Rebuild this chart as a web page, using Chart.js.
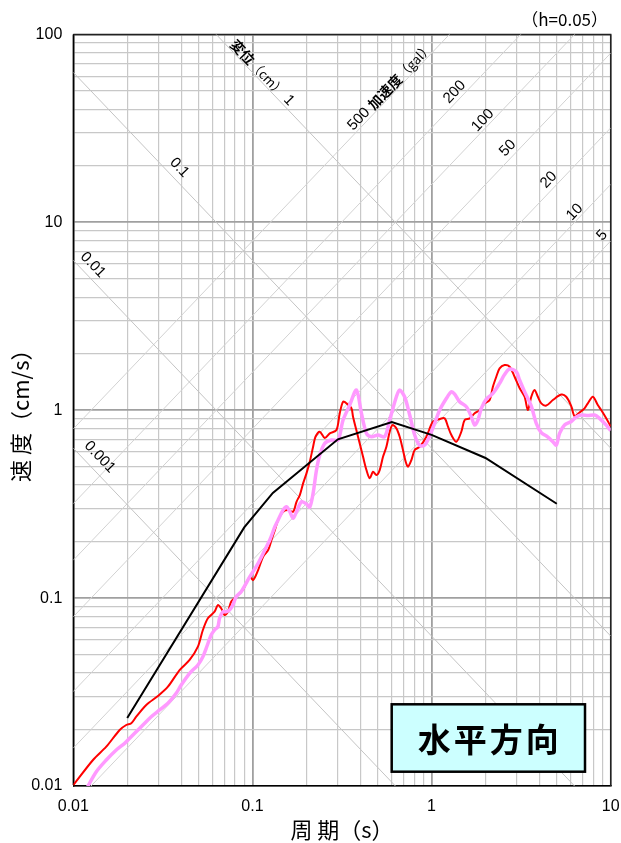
<!DOCTYPE html>
<html><head><meta charset="utf-8">
<script src="https://cdn.jsdelivr.net/npm/chart.js@4.4.1/dist/chart.umd.min.js"></script>
<style>html,body{margin:0;padding:0;background:#fff;}#wrap{width:621px;height:843px;}</style>
</head><body><div id="wrap"><canvas id="c" width="621" height="843"></canvas></div>
<script>
// ---- tick labels ----
const periodLabels = [0.01, 0.1, 1, 10];
const velocityLabels = [0.01, 0.1, 1, 10, 100];
// ---- tripartite guide lines ----
const displacementLines = [0.001, 0.01, 0.1, 1];          // cm
const accelerationLines = [5, 10, 20, 50, 100, 200, 500]; // gal

// ---- series: red ----
const redT = [0.01,0.01288,0.01528,0.01815,0.01975,0.02107,0.02246,0.02554,0.02968,0.03375,0.03921,0.04459,0.04961,0.05289,0.0564,0.06146,0.06412,0.06689,0.06988,0.07292,0.07607,0.08111,0.08843,0.09672,0.1009,0.1076,0.1147,0.1224,0.1278,0.1334,0.1391,0.1484,0.1582,0.1687,0.1762,0.1838,0.1918,0.2003,0.209,0.2181,0.2249,0.2376,0.2534,0.2702,0.2944,0.3072,0.3206,0.3348,0.357,0.3644,0.3886,0.4145,0.433,0.4517,0.4713,0.4922,0.5134,0.5357,0.5596,0.5838,0.6044,0.6362,0.6638,0.6925,0.7171,0.7385,0.7715,0.805,0.8583,0.9354,1.018,1.11,1.183,1.235,1.29,1.375,1.466,1.53,1.632,1.74,1.855,1.978,2.109,2.2,2.298,2.398,2.556,2.727,2.907,3.1,3.306,3.449,3.603,3.758,3.921,4.096,4.369,4.755,5.296,5.646,6.022,6.283,6.699,7.143,7.452,7.95,8.472,8.851,9.438,10];
const redV = [0.0101,0.01375,0.01619,0.01987,0.02112,0.02157,0.02338,0.02699,0.03013,0.03378,0.04143,0.04685,0.05513,0.06765,0.0781,0.08466,0.0919,0.08826,0.08128,0.08466,0.0957,0.1017,0.1104,0.13,0.1248,0.1411,0.1661,0.1803,0.2038,0.2303,0.2604,0.2883,0.2944,0.2883,0.3258,0.3537,0.4082,0.4615,0.5319,0.6394,0.7228,0.7684,0.7112,0.7534,0.7847,0.9627,1.11,1.088,1.024,0.9236,0.7228,0.5655,0.4805,0.4341,0.4707,0.452,0.4805,0.5655,0.6394,0.7684,0.834,0.801,0.7228,0.6139,0.5319,0.5004,0.5433,0.6139,0.6394,0.7228,0.8688,0.898,0.9056,0.8172,0.738,0.6799,0.7684,0.887,0.9056,0.9627,1.002,1.088,1.133,1.334,1.508,1.671,1.74,1.704,1.508,1.313,1.18,1.002,1.18,1.281,1.18,1.088,1.059,1.133,1.212,1.18,1.053,0.9314,0.9721,1.024,1.088,1.18,1.066,1.002,0.9056,0.82];
// ---- series: pink ----
const pinkT = [0.0118,0.01344,0.01528,0.01737,0.01935,0.02064,0.022,0.02447,0.02723,0.03033,0.03375,0.03753,0.04003,0.04459,0.04961,0.05289,0.05518,0.05885,0.06146,0.06412,0.06553,0.06837,0.07133,0.07451,0.07774,0.08111,0.08649,0.09672,0.1076,0.1173,0.125,0.1334,0.1391,0.1484,0.1549,0.1617,0.1687,0.1762,0.1879,0.2003,0.209,0.2181,0.2278,0.2376,0.2534,0.2761,0.3006,0.3206,0.3493,0.3807,0.406,0.433,0.4617,0.5023,0.5475,0.5838,0.6362,0.6638,0.7079,0.755,0.805,0.8583,0.9152,0.9759,1.041,1.11,1.209,1.29,1.345,1.434,1.564,1.667,1.74,1.815,1.896,2.021,2.2,2.398,2.556,2.727,2.972,3.1,3.306,3.603,3.842,4.096,4.459,4.755,4.967,5.182,5.525,6.022,6.421,6.846,7.452,8.124,8.659,9.438,10];
const pinkV = [0.0096,0.01191,0.01375,0.01554,0.01687,0.01794,0.01908,0.02112,0.02338,0.02539,0.02755,0.03114,0.03448,0.03979,0.04406,0.04877,0.05405,0.06363,0.06765,0.07043,0.0781,0.08466,0.08466,0.08645,0.0919,0.1017,0.1082,0.13,0.1532,0.1803,0.2038,0.2399,0.2604,0.2944,0.3065,0.2883,0.2659,0.2883,0.3258,0.3168,0.3053,0.3612,0.4805,0.5775,0.6665,0.694,0.694,0.887,1.066,1.281,0.9627,0.7534,0.7228,0.738,0.7228,0.887,1.18,1.281,1.176,0.9429,0.738,0.649,0.6529,0.729,0.8517,1.002,1.154,1.255,1.22,1.11,1.044,0.9236,0.834,0.887,1.024,1.147,1.23,1.391,1.549,1.657,1.603,1.448,1.255,1.053,0.8517,0.7609,0.7202,0.6799,0.6529,0.7534,0.834,0.871,0.9201,0.9429,0.937,0.9429,0.9056,0.834,0.78];
// ---- series: black ----
const blackT = [0.02, 0.09, 0.13, 0.3, 0.6, 1.0, 2.0, 5.0];
const blackV = [0.023, 0.238, 0.363, 0.70, 0.865, 0.74, 0.557, 0.318];

// ---------------------------------------------------------------
const TWO_PI = 2 * Math.PI;
const pts = (T, V) => T.map((t, i) => ({x: t, y: V[i]}));
const isDecade = v => Math.abs(Math.log10(v) - Math.round(Math.log10(v))) < 1e-9;
function gridValues(min, max) {
  const out = [];
  for (let e = Math.round(Math.log10(min)); e < Math.round(Math.log10(max)); e++)
    for (let m = 1; m < 10; m++) out.push(m * Math.pow(10, e));
  out.push(max);
  return out;
}
const lineV = (kind, val, t) => kind === 'D' ? TWO_PI * val / t : val * t / TWO_PI;
const X_MIN = 0.01, X_MAX = 10;

const guideSets = [];
displacementLines.forEach(d => guideSets.push({
  data: [{x: X_MIN, y: lineV('D', d, X_MIN)}, {x: X_MAX, y: lineV('D', d, X_MAX)}],
  borderColor: '#c4c4c4', borderWidth: 1, pointRadius: 0, showLine: true
}));
accelerationLines.forEach(a => guideSets.push({
  data: [{x: X_MIN, y: lineV('A', a, X_MIN)}, {x: X_MAX, y: lineV('A', a, X_MAX)}],
  borderColor: '#d2d2d2', borderWidth: 1, pointRadius: 0, showLine: true
}));

const NUM = "'Liberation Sans', Arial, sans-serif";
const CJK = "'Noto Sans CJK JP', sans-serif";
const diagLabels = [
  {kind:'D', value:1,     t:0.1065, off:7,  parts:[['変位', CJK, 'bold 14px'], ['（cm）', CJK, '13px'], [' 1', NUM, '15px']]},
  {kind:'D', value:0.1,   t:0.0353, off:11, parts:[['0.1', NUM, '15px']]},
  {kind:'D', value:0.01,  t:0.01162,off:11, parts:[['0.01', NUM, '15px']]},
  {kind:'D', value:0.001, t:0.01245,off:13, parts:[['0.001', NUM, '15px']]},
  {kind:'A', value:500,   t:0.6266, off:7,  parts:[['500 ', NUM, '15px'], ['加速度', CJK, 'bold 14px'], ['（gal）', CJK, '13px']]},
  {kind:'A', value:200,   t:1.451,  off:8,  parts:[['200', NUM, '15px']]},
  {kind:'A', value:100,   t:2.066,  off:7,  parts:[['100', NUM, '15px']]},
  {kind:'A', value:50,    t:2.893,  off:9,  parts:[['50', NUM, '15px']]},
  {kind:'A', value:20,    t:4.898,  off:9,  parts:[['20', NUM, '15px']]},
  {kind:'A', value:10,    t:6.714,  off:7,  parts:[['10', NUM, '15px']]},
  {kind:'A', value:5,     t:9.84,   off:10, parts:[['5', NUM, '15px']]}
];

const decor = {
  id: 'decor',
  beforeDatasetsDraw(chart) {
    const {ctx, chartArea: a} = chart;
    ctx.save();
    ctx.strokeStyle = '#222'; ctx.lineWidth = 1.5;
    ctx.beginPath(); ctx.moveTo(a.left, a.top); ctx.lineTo(a.right, a.top); ctx.lineTo(a.right, a.bottom); ctx.stroke();
    ctx.restore();
  },
  afterDatasetsDraw(chart) {
    const {ctx, chartArea: a} = chart;
    const xs = chart.scales.x, ys = chart.scales.y;
    ctx.save();
    ctx.fillStyle = '#000';
    for (const L of diagLabels) {
      const px = xs.getPixelForValue(L.t), py = ys.getPixelForValue(lineV(L.kind, L.value, L.t));
      const t2 = L.t * 1.2;
      const qx = xs.getPixelForValue(t2), qy = ys.getPixelForValue(lineV(L.kind, L.value, t2));
      const ang = Math.atan2(qy - py, qx - px);
      const nx = Math.sin(ang), ny = -Math.cos(ang);
      ctx.save();
      ctx.translate(px + nx * L.off, py + ny * L.off);
      ctx.rotate(ang);
      ctx.textBaseline = 'middle'; ctx.textAlign = 'left';
      let total = 0; const ws = [];
      for (const p of L.parts) { ctx.font = p[2] + ' ' + p[1]; const w = ctx.measureText(p[0]).width; ws.push(w); total += w; }
      let x = -total / 2;
      L.parts.forEach((p, i) => { ctx.font = p[2] + ' ' + p[1]; ctx.fillText(p[0], x, 0); x += ws[i]; });
      ctx.restore();
    }
    // damping note
    ctx.font = '17px ' + CJK; ctx.textAlign = 'right'; ctx.textBaseline = 'middle';
    ctx.fillText('（h=0.05）', 608, 20);
    // direction box
    const bx = a.left + 318.4, by = a.top + 669.8, bw = 193.3, bh = 67.4;
    ctx.fillStyle = '#ccffff'; ctx.fillRect(bx, by, bw, bh);
    ctx.strokeStyle = '#000'; ctx.lineWidth = 2.5; ctx.strokeRect(bx, by, bw, bh);
    ctx.fillStyle = '#000';
    ctx.font = 'bold 33px ' + CJK; ctx.textAlign = 'center'; ctx.textBaseline = 'middle';
    try { ctx.letterSpacing = '3px'; } catch (e) {}
    ctx.fillText('水平方向', bx + bw / 2 + 1.5, by + bh / 2 + 1);
    ctx.restore();
  }
};

function labelFor(list) {
  return v => { const f = list.find(p => Math.abs(p - v) / p < 1e-6); return f === undefined ? '' : String(f); };
}
const gridColor = ctx => isDecade(ctx.tick.value) ? '#a0a0a0' : '#c8c8c8';
const gridWidth = ctx => isDecade(ctx.tick.value) ? 1.8 : 1.2;

new Chart(document.getElementById('c'), {
  type: 'scatter',
  data: {
    datasets: [
      {data: pts(blackT, blackV), borderColor: '#000', borderWidth: 2, pointRadius: 0, showLine: true, tension: 0},
      {data: pts(pinkT, pinkV), borderColor: '#ff99ff', borderWidth: 3.5, pointRadius: 0, showLine: true, tension: 0.3},
      {data: pts(redT, redV), borderColor: '#ff0000', borderWidth: 2, pointRadius: 0, showLine: true, tension: 0.3},
      ...guideSets
    ]
  },
  options: {
    responsive: false, animation: false,
    layout: {padding: {left: 0, top: 34.5, right: 10.3, bottom: 0}},
    plugins: {legend: {display: false}, tooltip: {enabled: false}},
    scales: {
      x: {
        type: 'logarithmic', min: X_MIN, max: X_MAX, position: 'bottom',
        afterBuildTicks: s => { s.ticks = gridValues(X_MIN, X_MAX).map(v => ({value: v})); },
        afterFit: s => { s.height = 57; s.paddingLeft = 0; s.paddingRight = 0; },
        grid: {color: gridColor, lineWidth: gridWidth, drawTicks: false},
        border: {display: true, color: '#000', width: 1.5},
        ticks: {autoSkip: false, maxRotation: 0, padding: 11, color: '#000', font: {family: NUM, size: 16}, callback: labelFor(periodLabels)},
        title: {display: true, text: '周 期（s）', color: '#000', font: {family: CJK, size: 22}, padding: {top: 0, bottom: 0}}
      },
      y: {
        type: 'logarithmic', min: 0.01, max: 100,
        afterBuildTicks: s => { s.ticks = gridValues(0.01, 100).map(v => ({value: v})); },
        afterFit: s => { s.width = 73.3; s.paddingTop = 0; s.paddingBottom = 0; },
        grid: {color: gridColor, lineWidth: gridWidth, drawTicks: false},
        border: {display: true, color: '#000', width: 1.5},
        ticks: {autoSkip: false, padding: 11, color: '#000', font: {family: NUM, size: 16}, callback: labelFor(velocityLabels)},
        title: {display: true, text: '速 度（cm/s）', color: '#000', font: {family: CJK, size: 22}, padding: {top: 7, bottom: 0}}
      }
    }
  },
  plugins: [decor]
});
</script></body></html>
